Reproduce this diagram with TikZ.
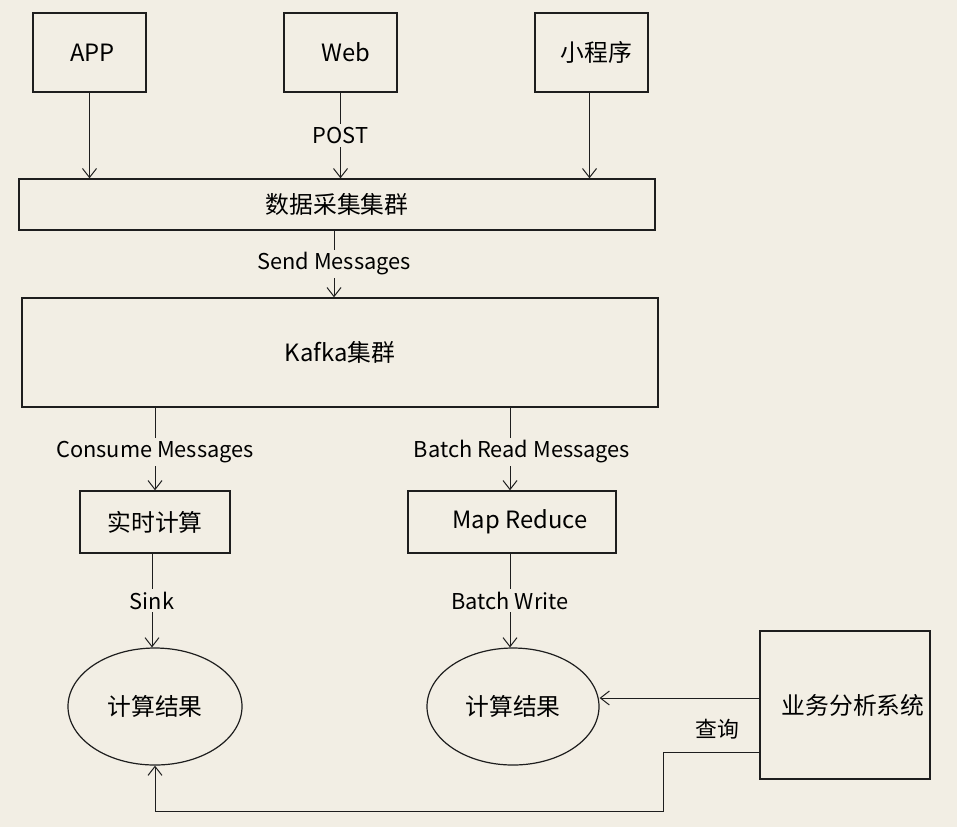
\documentclass[tikz,border=0pt]{standalone}
\usepackage{fontspec}
\setmainfont{Noto Sans CJK SC}
\usetikzlibrary{arrows.meta,shapes.geometric}
\definecolor{paper}{HTML}{F2EEE4}
\definecolor{ink}{HTML}{1E1E1E}
\tikzset{
  box/.style={draw=ink, line width=0.7pt, inner sep=0pt, font=\fontsize{11.9}{14}\selectfont},
  oval/.style={ellipse, draw=ink, line width=0.6pt, inner sep=0pt, font=\fontsize{11.9}{14}\selectfont},
  flow/.style={draw=ink, line width=0.5pt, -{Straight Barb[length=4.5pt,width=7pt]}},
  tag/.style={fill=paper, inner sep=1.5pt, font=\fontsize{10.9}{12}\selectfont},
}
\begin{document}
\begin{tikzpicture}[x=0.5pt, y=-0.5pt]
        \fill[paper] (0,0) rectangle (957,827);
        \useasboundingbox (0,0) rectangle (957,827);

        % sources
        \node[box, minimum width=56.5pt, minimum height=39.5pt] (app) at (89.5,52.5) {\hspace{3pt}APP};
        \node[box, minimum width=56.5pt, minimum height=39.5pt] (web) at (340.5,52.5) {\hspace{5pt}Web};
        \node[box, minimum width=56.5pt, minimum height=39.5pt] (mini) at (591.5,52.5) {\hspace{5pt}小程序};

        \node[box, minimum width=318pt, minimum height=25.5pt] (collect) at (337,204.5) {数据采集集群};
        \node[box, minimum width=318pt, minimum height=54.5pt] (kafka) at (340,352.5) {Kafka集群};

        \node[box, minimum width=75pt, minimum height=31pt] (stream) at (155,522) {实时计算};
        \node[box, minimum width=104pt, minimum height=31pt] (mapred) at (512,522) {\hspace{8pt}Map Reduce};

        \node[oval, minimum width=87pt, minimum height=58.5pt] (res1) at (155,706.5) {计算结果};
        \node[oval, minimum width=86pt, minimum height=58.5pt] (res2) at (513,706.5) {计算结果};

        \node[box, minimum width=85pt, minimum height=74pt] (biz) at (845,705) {\hspace{8pt}业务分析系统};

        % connectors
        \draw[flow] (app.south) -- (app.south |- collect.north);
        \draw[flow] (web.south) -- node[tag] {POST} (web.south |- collect.north);
        \draw[flow] ([xshift=-1pt]mini.south) -- ([xshift=-1pt]mini.south |- collect.north);
        \draw[flow] ([xshift=-1.5pt]collect.south) -- node[tag] {Send Messages} ([xshift=-1.5pt]collect.south |- kafka.north);

        \draw[flow] (stream.north |- kafka.south) -- node[tag, yshift=-1.5pt] {Consume Messages} (stream.north);
        \draw[flow] ([xshift=-1pt]mapred.north |- kafka.south) -- node[tag, xshift=6pt, yshift=-1.5pt] {Batch Read Messages} ([xshift=-1pt]mapred.north);

        \draw[flow] ([xshift=-1.5pt]stream.south) -- node[tag] {Sink} ([xshift=-1.5pt]stream.south |- res1.north);
        \draw[flow] ([xshift=-1pt]mapred.south) -- node[tag] {Batch Write} ([xshift=-1pt]mapred.south |- res2.north);

        \draw[flow] ([yshift=3.5pt]biz.west) -- ([yshift=3.5pt]biz.west -| res2.east);
        \draw[flow] ([yshift=-23.5pt]biz.west) -- ++(-96,0) -- ++(0,59) -| (res1.south);
        \node[tag, fill=none] (ask) at (717,729) {查询};

\end{tikzpicture}
\end{document}
